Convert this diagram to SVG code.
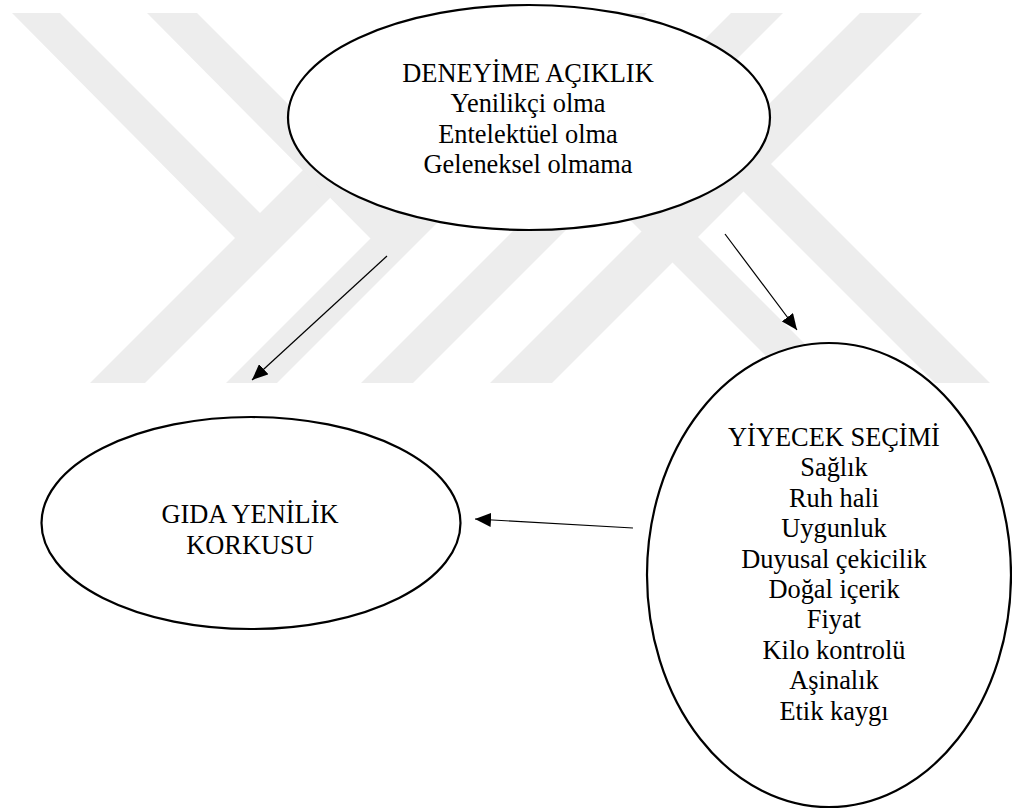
<svg xmlns="http://www.w3.org/2000/svg" width="1012" height="811" viewBox="0 0 1012 811">
<style>
.wm{fill:#ededed;stroke:none}
.node{fill:#ffffff;stroke:#000000;stroke-width:2.2}
.t{font-size:26.4px;fill:#000000;text-anchor:middle}
.edge{stroke:#000000;stroke-width:1.2;fill:none;marker-end:url(#arrow)}
</style>
<defs>
<marker id="arrow" viewBox="0 0 16 14" refX="16" refY="7" markerWidth="16" markerHeight="14" markerUnits="userSpaceOnUse" orient="auto">
<path d="M0,0 L16,7 L0,14 z" fill="#000000"/>
</marker>
</defs>
<rect x="0" y="0" width="1012" height="811" fill="#ffffff"/>
<g id="watermark">
<polygon class="wm" points="460,13 515,13 145,383 90,383"/>
<polygon class="wm" points="12,13 60,13 262,215 236,239"/>
<polygon class="wm" points="596,13 647,13 277,383 226,383"/>
<polygon class="wm" points="147,13 197,13 398,214 371,239"/>
<polygon class="wm" points="731,13 783,13 413,383 361,383"/>
<polygon class="wm" points="860,13 922,13 552,383 490,383"/>
<polygon class="wm" points="603,193 628.5,167.5 844,383 793,383"/>
<polygon class="wm" points="728,176 755.5,148.5 990,383 935,383"/>
</g>
<g id="node-deneyime" font-family="Liberation Serif, DejaVu Serif, serif">
<ellipse class="node" cx="529" cy="117.5" rx="241" ry="112.5"/>
<text class="t" x="528" y="81.5">DENEYİME AÇIKLIK</text>
<text class="t" x="528" y="112">Yenilikçi olma</text>
<text class="t" x="528" y="142.5">Entelektüel olma</text>
<text class="t" x="528" y="173">Geleneksel olmama</text>
</g>
<g id="node-gida" font-family="Liberation Serif, DejaVu Serif, serif">
<ellipse class="node" cx="251" cy="523" rx="209.5" ry="106"/>
<text class="t" x="250" y="523">GIDA YENİLİK</text>
<text class="t" x="250" y="553.5">KORKUSU</text>
</g>
<g id="node-yiyecek" font-family="Liberation Serif, DejaVu Serif, serif">
<ellipse class="node" cx="829" cy="575" rx="182" ry="232"/>
<text class="t" x="834" y="446">YİYECEK SEÇİMİ</text>
<text class="t" x="834" y="476.4">Sağlık</text>
<text class="t" x="834" y="506.8">Ruh hali</text>
<text class="t" x="834" y="537.2">Uygunluk</text>
<text class="t" x="834" y="567.6">Duyusal çekicilik</text>
<text class="t" x="834" y="598">Doğal içerik</text>
<text class="t" x="834" y="628.4">Fiyat</text>
<text class="t" x="834" y="658.8">Kilo kontrolü</text>
<text class="t" x="834" y="689.2">Aşinalık</text>
<text class="t" x="834" y="719.6">Etik kaygı</text>
</g>
<g id="connectors">
<line class="edge" x1="387" y1="256" x2="252" y2="380"/>
<line class="edge" x1="725" y1="234" x2="797" y2="330"/>
<line class="edge" x1="633" y1="528" x2="475" y2="519"/>
</g>
</svg>
